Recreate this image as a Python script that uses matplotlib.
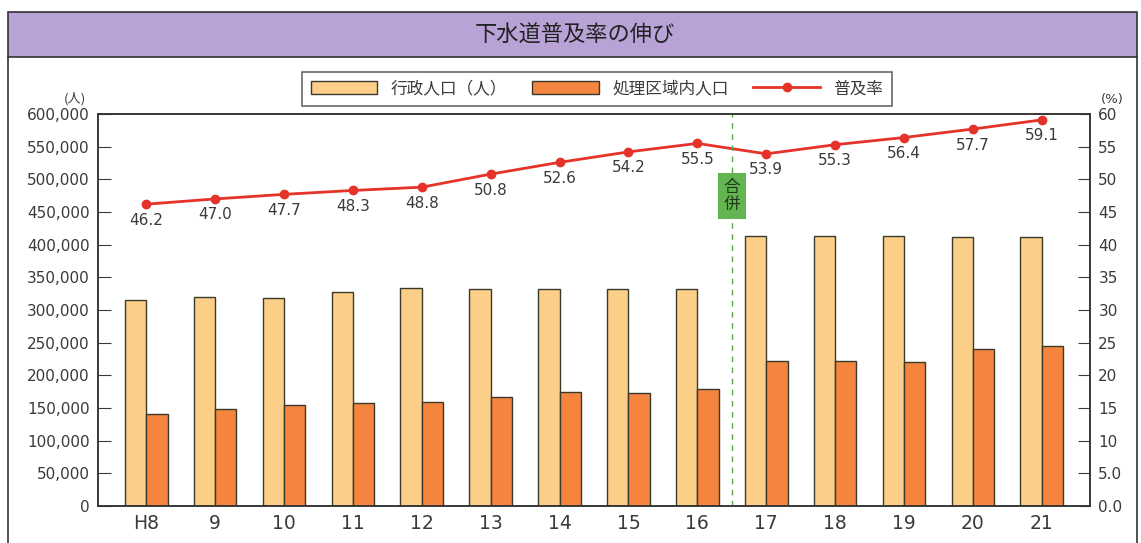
import matplotlib
matplotlib.use("Agg")
import matplotlib.pyplot as plt
from matplotlib.patches import Rectangle
from matplotlib.lines import Line2D
import numpy as np

# DejaVu for the wide digits, Noto CJK for the Japanese text
plt.rcParams['font.family'] = ['DejaVu Sans', 'Noto Sans CJK JP']

# data
years = ["H8", "9", "10", "11", "12", "13", "14", "15", "16", "17", "18", "19", "20", "21"]
admin_pop = [316000, 319500, 319000, 327000, 333000, 332500, 332000, 332000, 331500,
             413000, 413000, 413000, 412500, 412500]
served_pop = [141500, 148000, 155000, 158000, 159500, 166500, 174000, 173500, 179500,
              221500, 221500, 221000, 240500, 245500]
rate = [46.2, 47.0, 47.7, 48.3, 48.8, 50.8, 52.6, 54.2, 55.5, 53.9, 55.3, 56.4, 57.7, 59.1]

yellow = "#fccf89"
orange = "#f5843e"
red = "#e5332a"
txt = "#3a3a3a"
jp = ['Noto Sans CJK JP', 'DejaVu Sans']

W, H = 1141, 543
fig = plt.figure(figsize=(W / 100, H / 100), dpi=100)

# outer frame and purple title band
fig.patches.append(Rectangle((8 / W, 1 - 57 / H), 1129 / W, 45 / H, transform=fig.transFigure,
                             facecolor="#b8a2d6", edgecolor="#333333", lw=1.2))
fig.lines.append(Line2D([8 / W, 8 / W], [0, 1 - 57 / H], transform=fig.transFigure, color="#333333", lw=1.2))
fig.lines.append(Line2D([1137 / W, 1137 / W], [0, 1 - 57 / H], transform=fig.transFigure, color="#333333", lw=1.2))
fig.text(575 / W, 1 - 35 / H, "下水道普及率の伸び", ha="center", va="center", fontsize=16,
         color="#222222", family=jp)

ax = fig.add_axes([98 / W, 1 - 506 / H, 992 / W, 392 / H])
ax2 = ax.twinx()

x = np.arange(len(years))
bw = 0.31
ax.bar(x - bw / 2, admin_pop, bw, color=yellow, edgecolor="#3a3a2a", lw=1, label="行政人口（人）")
ax.bar(x + bw / 2, served_pop, bw, color=orange, edgecolor="#3a3a2a", lw=1, label="処理区域内人口")

ax.set_xlim(-0.7, len(years) - 0.3)
ax.set_ylim(0, 600000)
ax.set_yticks(np.arange(0, 600001, 50000))
ax.set_yticklabels([f"{v:,}" for v in range(0, 600001, 50000)])
ax.set_xticks(x)
ax.set_xticklabels(years, fontsize=13.5)
ax.tick_params(axis="x", length=0, pad=6, colors=txt)
ax.tick_params(axis="y", direction="in", length=9, labelsize=11, colors=txt, pad=6)

ax2.plot(x, rate, color=red, lw=2, marker="o", markersize=6, label="普及率")
ax2.set_ylim(0, 60)
ax2.set_yticks(np.arange(0, 61, 5))
ax2.set_yticklabels(["0.0", "5.0"] + [str(v) for v in range(10, 61, 5)])
ax2.tick_params(axis="y", direction="in", length=9, labelsize=11, colors=txt, pad=6)

for xi, r in zip(x, rate):
    ax2.annotate(f"{r:.1f}", (xi, r), xytext=(0, -16), textcoords="offset pixels",
                 ha="center", va="center", fontsize=11, color=txt)

# merger marker
ax2.axvline(8.5, color="#5aa84a", lw=1, linestyle=(0, (4, 4)))
ax2.add_patch(Rectangle((8.3, 43.9), 0.4, 7.1, facecolor="#63b552", edgecolor="none", zorder=3))
ax2.text(8.5, 47.45, "合\n併", ha="center", va="center", fontsize=12, color="#1f3a1a",
         linespacing=1.0, zorder=4, family=jp)

for a in (ax, ax2):
    for s in a.spines.values():
        s.set_color("#333333")
        s.set_linewidth(1.1)

fig.text(75 / W, 1 - 99 / H, "(人)", ha="center", va="center", fontsize=9.5, color=txt, family=jp)
fig.text(1112 / W, 1 - 99 / H, "(%)", ha="center", va="center", fontsize=9.5, color=txt)

h1, l1 = ax.get_legend_handles_labels()
h2, l2 = ax2.get_legend_handles_labels()
leg = fig.legend(h1 + h2, l1 + l2, loc="center", bbox_to_anchor=(597 / W, 1 - 89 / H), ncol=3,
                 fontsize=12, frameon=True, fancybox=False, edgecolor="#333333",
                 handlelength=4, handleheight=0.8, columnspacing=1.5, borderpad=0.5,
                 prop={'family': jp, 'size': 12})
leg.get_frame().set_linewidth(1.1)
for t in leg.get_texts():
    t.set_color(txt)

fig.savefig("out.png", dpi=100)
